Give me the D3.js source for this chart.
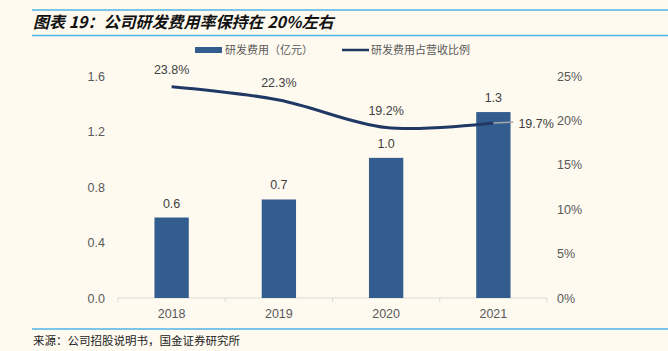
<!DOCTYPE html>
<html>
<head>
<meta charset="utf-8">
<script src="https://cdn.jsdelivr.net/npm/d3@7"></script>
<style>
  body { margin: 0; background: #fefaf0; }
  svg { display: block; font-family: "Liberation Sans", Arial, sans-serif; }
</style>
</head>
<body>
<svg width="668" height="351"></svg>
<script>
let years = ["2018", "2019", "2020", "2021"],
    spend = [0.58, 0.71, 1.01, 1.34],        // 研发费用（亿元）
    ratio = [0.238, 0.223, 0.192, 0.197],    // 研发费用占营收比例
    leftTicks = [0, 0.4, 0.8, 1.2, 1.6],
    rightTicks = [0, 0.05, 0.10, 0.15, 0.20, 0.25];

let svg = d3.select("svg"),
    width = +svg.attr("width"),
    cjk = "'Noto Sans CJK SC', sans-serif";

svg.append("rect").attr("width", width).attr("height", 351).attr("fill", "#fefaf0");

// title block with the blue rules
svg.append("line").attr("x1", 32).attr("x2", width).attr("y1", 10).attr("y2", 10)
    .attr("stroke", "#4fb3e6").attr("stroke-width", 1.5);
svg.append("line").attr("x1", 32).attr("x2", width).attr("y1", 35.5).attr("y2", 35.5)
    .attr("stroke", "#4fb3e6").attr("stroke-width", 1.5);
svg.append("text").attr("x", 33).attr("y", 28)
    .attr("font-family", cjk).attr("font-size", 16).attr("font-weight", "bold")
    .attr("font-style", "italic").attr("fill", "#111")
    .text("图表 19：公司研发费用率保持在 20%左右");

let x = d3.scaleBand().domain(years).range([118, 547]).paddingInner(0.68).paddingOuter(0.34),
    y = d3.scaleLinear().domain([0, 1.6]).range([298, 76]),
    y2 = d3.scaleLinear().domain([0, 0.25]).range([298, 76]);

// bottom axis with tick marks at the band edges
let xAxis = svg.append("g").attr("transform", "translate(0,298)");
xAxis.append("line").attr("x1", 118).attr("x2", 547).attr("stroke", "#d9d9d9");
let step = (547 - 118) / years.length;
xAxis.selectAll(".tk").data(d3.range(years.length + 1)).enter().append("line")
    .attr("x1", function(d) { return 118 + d * step; })
    .attr("x2", function(d) { return 118 + d * step; })
    .attr("y1", 0).attr("y2", 4).attr("stroke", "#d9d9d9");
xAxis.selectAll(".lbl").data(years).enter().append("text")
    .attr("x", function(d) { return x(d) + x.bandwidth() / 2; })
    .attr("y", 20).attr("text-anchor", "middle").attr("font-size", 12.5).attr("fill", "#595959")
    .text(function(d) { return d; });

// left axis labels
svg.append("g").selectAll("text").data(leftTicks).enter().append("text")
    .attr("x", 105).attr("y", function(d) { return y(d) + 4.5; })
    .attr("text-anchor", "end").attr("font-size", 12.5).attr("fill", "#595959")
    .text(function(d) { return d.toFixed(1); });

// right axis labels
svg.append("g").selectAll("text").data(rightTicks).enter().append("text")
    .attr("x", 557).attr("y", function(d) { return y2(d) + 4.5; })
    .attr("text-anchor", "start").attr("font-size", 12.5).attr("fill", "#595959")
    .text(function(d) { return Math.round(d * 100) + "%"; });

// bars
svg.append("g").selectAll("rect").data(years).enter().append("rect")
    .attr("x", function(d) { return x(d); })
    .attr("y", function(d, i) { return y(spend[i]); })
    .attr("width", x.bandwidth())
    .attr("height", function(d, i) { return 298 - y(spend[i]); })
    .attr("fill", "#335d8f");

svg.append("g").selectAll("text").data(years).enter().append("text")
    .attr("x", function(d) { return x(d) + x.bandwidth() / 2; })
    .attr("y", function(d, i) { return y(spend[i]) - 10; })
    .attr("text-anchor", "middle").attr("font-size", 12.5).attr("fill", "#404040")
    .text(function(d, i) { return spend[i].toFixed(1); });

// ratio line (smoothed like the original)
let pts = years.map(function(d, i) { return [x(d) + x.bandwidth() / 2, y2(ratio[i])]; });
let line = d3.line().curve(d3.curveCardinal.tension(0));
svg.append("path").attr("d", line(pts)).attr("fill", "none")
    .attr("stroke", "#1f3864").attr("stroke-width", 3);

// leader line for the last label
let last = pts[pts.length - 1];
svg.append("line").attr("x1", last[0]).attr("x2", last[0] + 20)
    .attr("y1", last[1]).attr("y2", last[1] - 1)
    .attr("stroke", "#a6a6a6").attr("stroke-width", 1.5);

let lblOffset = [[0, -13], [0, -13], [0, -13], [25, 4.5]];
svg.append("g").selectAll("text").data(pts).enter().append("text")
    .attr("x", function(d, i) { return d[0] + lblOffset[i][0]; })
    .attr("y", function(d, i) { return d[1] + lblOffset[i][1]; })
    .attr("text-anchor", function(d, i) { return i === 3 ? "start" : "middle"; })
    .attr("font-size", 12.5).attr("fill", "#404040")
    .text(function(d, i) { return (ratio[i] * 100).toFixed(1) + "%"; });

// legend
let legend = svg.append("g").attr("font-family", cjk).attr("font-size", 11).attr("fill", "#595959");
legend.append("rect").attr("x", 195).attr("y", 47).attr("width", 27).attr("height", 6).attr("fill", "#335d8f");
legend.append("text").attr("x", 225).attr("y", 54).text("研发费用（亿元）");
legend.append("line").attr("x1", 342).attr("x2", 369).attr("y1", 50).attr("y2", 50)
    .attr("stroke", "#1f3864").attr("stroke-width", 2.5);
legend.append("text").attr("x", 371).attr("y", 54).text("研发费用占营收比例");

// source footer
svg.append("line").attr("x1", 32).attr("x2", width).attr("y1", 329).attr("y2", 329)
    .attr("stroke", "#4fb3e6").attr("stroke-width", 1.5);
svg.append("text").attr("x", 33).attr("y", 345)
    .attr("font-family", cjk).attr("font-size", 11.5).attr("fill", "#222")
    .text("来源：公司招股说明书，国金证券研究所");
</script>
</body>
</html>
